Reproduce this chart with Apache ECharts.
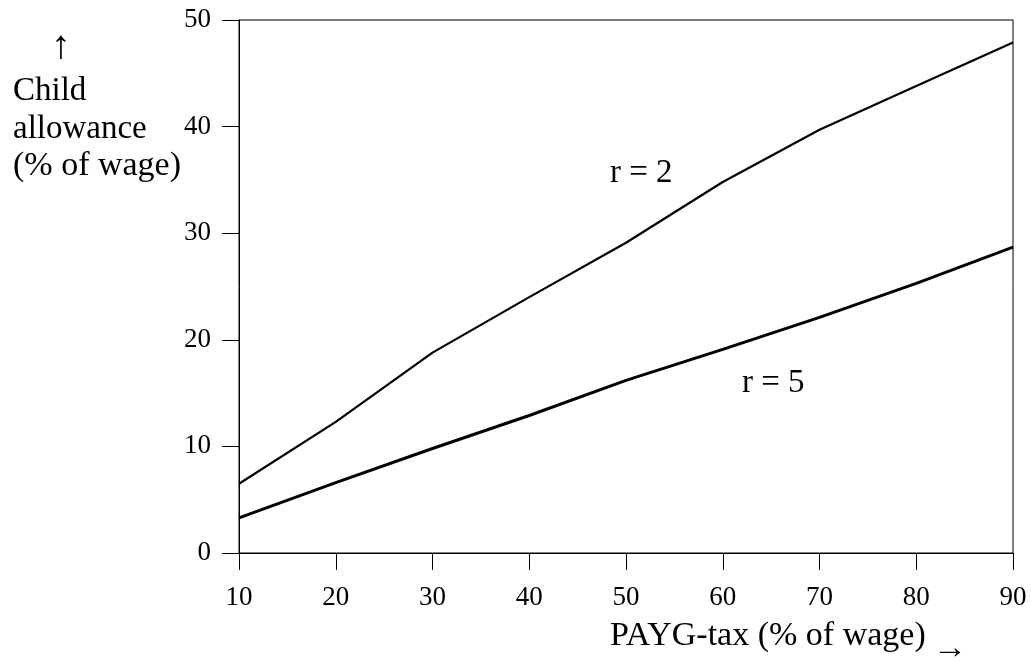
<!DOCTYPE html>
<html><head><meta charset="utf-8">
<script src="https://cdn.jsdelivr.net/npm/echarts@6/dist/echarts.min.js"></script>
<style>html,body{margin:0;padding:0;background:#fff}#c{width:1031px;height:662px}</style>
</head><body><div id="c"></div>
<script>
const xTicks = [10, 20, 30, 40, 50, 60, 70, 80, 90];
const r2 = [6.5, 12.3, 18.8, 24.0, 29.1, 34.8, 39.7, 43.8, 47.9];
const r5 = [3.3, 6.6, 9.8, 12.9, 16.2, 19.1, 22.1, 25.3, 28.7];
const font = 'Liberation Serif';
const chart = echarts.init(document.getElementById('c'));
const t = (x, y, text, size, extra) => Object.assign({type: 'text', x: x, y: y,
  style: {text: text, fontFamily: font, fontSize: size, fill: '#000', verticalAlign: 'middle', align: 'left'}}, extra || {});
chart.setOption({
  backgroundColor: '#fff',
  animation: false,
  grid: {left: 239, right: 18, top: 20, bottom: 109, show: true, borderColor: '#000', borderWidth: 1},
  xAxis: {
    type: 'value', min: 10, max: 90, interval: 10,
    axisLine: {onZero: false, lineStyle: {color: '#000', width: 1}},
    axisTick: {show: true, length: 17, lineStyle: {color: '#000'}},
    axisLabel: {color: '#000', fontFamily: font, fontSize: 27, margin: 31},
    splitLine: {show: false}
  },
  yAxis: {
    type: 'value', min: 0, max: 50, interval: 10,
    axisLine: {show: true, lineStyle: {color: '#000', width: 1}},
    axisTick: {show: true, length: 17, lineStyle: {color: '#000'}},
    axisLabel: {color: '#000', fontFamily: font, fontSize: 27, margin: 28},
    splitLine: {show: false}
  },
  series: [
    {type: 'line', data: xTicks.map((x, i) => [x, r2[i]]), showSymbol: false, lineStyle: {color: '#000', width: 2.2}},
    {type: 'line', data: xTicks.map((x, i) => [x, r5[i]]), showSymbol: false, lineStyle: {color: '#000', width: 3}}
  ],
  graphic: [
    {type: 'text', x: 61, y: 47, style: {text: '↑', fontFamily: font, fontSize: 40, fill: '#000', verticalAlign: 'middle', align: 'center'}},
    t(13, 91, 'Child', 33),
    t(13, 129, 'allowance', 33),
    t(13, 166, '(% of wage)', 34),
    t(610, 636, 'PAYG-tax (% of wage)', 34),
    t(933, 649, '→', 34),
    t(610, 173, 'r = 2', 33),
    t(742, 383, 'r = 5', 33)
  ]
});
</script></body></html>
